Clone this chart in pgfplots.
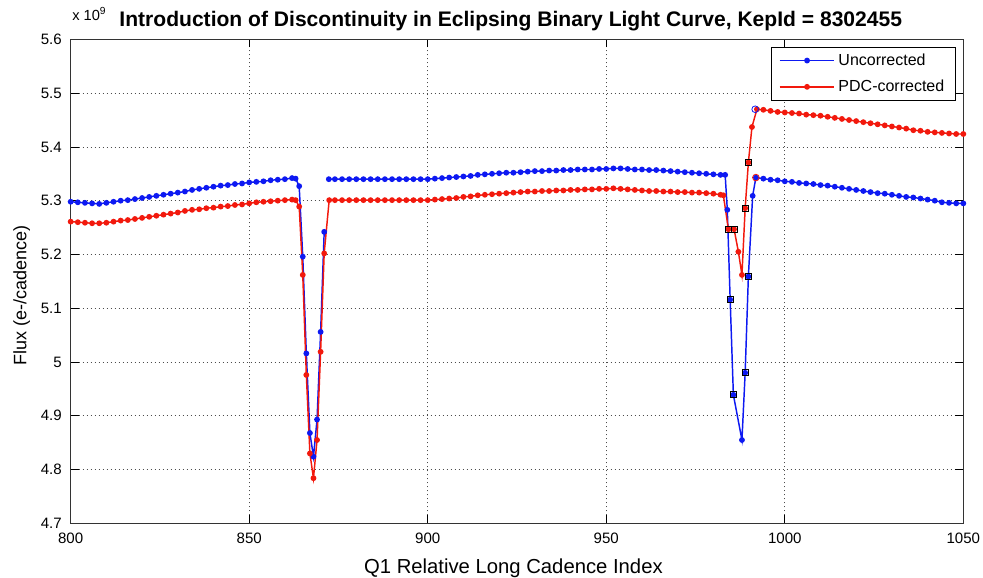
\documentclass[border=0pt]{standalone}
\usepackage{fontspec}
\setmainfont{Liberation Sans}
\usepackage{pgfplots}
\pgfplotsset{compat=1.18}
\definecolor{mblue}{rgb}{0.05,0.1,0.95}
\definecolor{mred}{rgb}{0.95,0.1,0.05}
\begin{document}
\begin{tikzpicture}
\useasboundingbox (-53.0pt,-40.3pt) rectangle (684.2pt,392.5pt);
\begin{axis}[
  name=ax,
  scale only axis,
  width=669.45pt, height=363pt,
  xmin=800, xmax=1050, ymin=4.7, ymax=5.6,
  xtick={800,850,...,1050},
  ytick={4.7,4.8,4.9,5.0,5.1,5.2,5.3,5.4,5.5,5.6},
  /pgf/number format/assume math mode=true,
  /pgf/number format/fixed,
  /pgf/number format/1000 sep={},
  tick label style={font=\fontsize{11.3}{13}\selectfont},
  xticklabel style={anchor=base, yshift=-14.8pt},
  yticklabel style={anchor=east, inner sep=0pt, xshift=-6.5pt},
  tick align=inside,
  major tick length=6pt,
  tick style={black, line width=0.6pt},
  axis line style={black!80, line width=0.7pt},
  grid=major,
  major grid style={black!70, line width=0.6pt, dash pattern=on 0.75pt off 2.25pt},
  xlabel={Q1 Relative Long Cadence Index},
  ylabel={Flux (e-/cadence)},
  xlabel style={font=\fontsize{15.2}{17}\selectfont, at={(axis description cs:0.496,0)}, anchor=base, yshift=-37.3pt},
  ylabel style={font=\fontsize{13.5}{16}\selectfont, at={([xshift=-36.7pt]axis description cs:0,0.47)}, anchor=center},
  title={\bfseries Introduction of Discontinuity in Eclipsing Binary Light Curve, KepId = 8302455},
  title style={font=\fontsize{15.8}{18}\selectfont, at={(axis description cs:0.493,1)}, anchor=base, yshift=3.5pt},
  unbounded coords=jump,
  legend style={at={(axis description cs:0.9918,0.9848)}, anchor=north east, draw=black, line width=0.6pt,
    font=\fontsize{12}{14}\selectfont, inner xsep=6pt, inner ysep=2.5pt, row sep=4.5pt,
    nodes={inner sep=2.5pt}},
  legend cell align=left,
  legend image code/.code={\draw[mark repeat=2,mark phase=2,#1] plot coordinates {(0pt,0pt) (20.5pt,0pt) (41pt,0pt)};},
]
% Uncorrected
\addplot[mblue, line width=1.1pt, mark=*, mark size=1.6pt] coordinates {
(800,5.298)(802,5.297)(804,5.296)(806,5.295)(808,5.294)(810,5.296)(812,5.298)(814,5.300)(816,5.301)(818,5.303)
(820,5.305)(822,5.307)(824,5.309)(826,5.311)(828,5.313)(830,5.315)(832,5.317)(834,5.320)(836,5.322)(838,5.324)
(840,5.326)(842,5.328)(844,5.329)(846,5.331)(848,5.332)(850,5.334)(852,5.335)(854,5.336)(856,5.338)(858,5.339)
(860,5.340)(862,5.342)(863,5.341)(864,5.327)(865,5.196)(866,5.016)(867,4.868)(868,4.824)(869,4.893)(870,5.056)
(871,5.242)(871.6,nan)(872.3,5.340)(874,5.340)(876,5.340)(878,5.340)(880,5.340)(882,5.340)(884,5.340)(886,5.340)
(888,5.340)(890,5.340)(892,5.340)(894,5.340)(896,5.340)(898,5.340)(900,5.340)(902,5.341)(904,5.342)(906,5.343)
(908,5.344)(910,5.345)(912,5.346)(914,5.348)(916,5.349)(918,5.350)(920,5.351)(922,5.352)(924,5.352)(926,5.353)
(928,5.354)(930,5.355)(932,5.355)(934,5.356)(936,5.356)(938,5.357)(940,5.357)(942,5.358)(944,5.358)(946,5.358)
(948,5.359)(950,5.359)(952,5.360)(954,5.360)(956,5.359)(958,5.358)(960,5.358)(962,5.357)(964,5.357)(966,5.356)
(968,5.355)(970,5.354)(972,5.353)(974,5.352)(976,5.351)(978,5.350)(980,5.349)(982,5.348)(983.3,5.348)
(983.9,5.283)(984.7,5.116)(985.6,4.939)(988.0,4.855)(988.9,4.980)(989.8,5.159)(991.0,5.309)(991.9,5.343)
(994,5.341)(996,5.339)(998,5.338)(1000,5.336)(1002,5.335)(1004,5.333)(1006,5.332)(1008,5.331)(1010,5.329)
(1012,5.328)(1014,5.326)(1016,5.324)(1018,5.322)(1020,5.320)(1022,5.318)(1024,5.316)(1026,5.314)(1028,5.313)
(1030,5.311)(1032,5.309)(1034,5.307)(1036,5.306)(1038,5.304)(1040,5.302)(1042,5.300)(1044,5.297)(1046,5.296)
(1048,5.295)(1050,5.295)
};
\addlegendentry{Uncorrected}
% PDC-corrected
\addplot[mred, line width=1.1pt, mark=*, mark size=1.6pt] coordinates {
(800,5.261)(802,5.260)(804,5.259)(806,5.258)(808,5.258)(810,5.259)(812,5.261)(814,5.263)(816,5.264)(818,5.266)
(820,5.268)(822,5.270)(824,5.272)(826,5.274)(828,5.276)(830,5.278)(832,5.281)(834,5.283)(836,5.284)(838,5.286)
(840,5.287)(842,5.289)(844,5.290)(846,5.292)(848,5.293)(850,5.295)(852,5.297)(854,5.298)(856,5.299)(858,5.300)
(860,5.301)(862,5.302)(863,5.301)(864,5.289)(865,5.162)(866,4.976)(867,4.830)(868,4.784)(869,4.855)(870,5.019)
(871,5.202)(872.4,5.301)(874,5.301)(876,5.301)(878,5.301)(880,5.301)(882,5.301)(884,5.301)(886,5.301)(888,5.301)
(890,5.301)(892,5.301)(894,5.301)(896,5.301)(898,5.301)(900,5.301)(902,5.302)(904,5.303)(906,5.304)(908,5.305)
(910,5.307)(912,5.308)(914,5.310)(916,5.311)(918,5.312)(920,5.313)(922,5.314)(924,5.315)(926,5.316)(928,5.317)
(930,5.317)(932,5.318)(934,5.318)(936,5.319)(938,5.319)(940,5.320)(942,5.320)(944,5.321)(946,5.321)(948,5.322)
(950,5.322)(952,5.323)(954,5.322)(956,5.321)(958,5.320)(960,5.319)(962,5.318)(964,5.318)(966,5.317)(968,5.317)
(970,5.316)(972,5.316)(974,5.315)(976,5.315)(978,5.314)(980,5.313)(982,5.311)(982.8,5.310)(984.2,5.247)
(985.8,5.247)(987.0,5.205)(988.0,5.162)(988.9,5.286)(989.8,5.371)(990.8,5.437)(992.2,5.470)(994,5.469)
(996,5.467)(998,5.465)(1000,5.464)(1002,5.463)(1004,5.462)(1006,5.460)(1008,5.459)(1010,5.458)(1012,5.456)
(1014,5.454)(1016,5.452)(1018,5.450)(1020,5.448)(1022,5.446)(1024,5.444)(1026,5.442)(1028,5.440)(1030,5.438)
(1032,5.436)(1034,5.434)(1036,5.431)(1038,5.430)(1040,5.428)(1042,5.427)(1044,5.426)(1046,5.425)(1048,5.424)
(1050,5.424)
};
\addlegendentry{PDC-corrected}
% flagged points
\addplot[forget plot, only marks, mark=square, mark size=2.3pt, black, line width=0.7pt] coordinates {
(984.7,5.116)(985.6,4.939)(988.9,4.980)(989.8,5.159)
(984.2,5.247)(985.8,5.247)(988.9,5.286)(989.8,5.371)
};
\addplot[forget plot, only marks, mark=o, mark size=2.5pt, mblue, line width=0.6pt] coordinates {(991.7,5.470)};
\addplot[forget plot, only marks, mark=o, mark size=2.5pt, mred, line width=0.6pt] coordinates {(991.9,5.343)};
\end{axis}
\node[anchor=base west, font=\fontsize{11}{13}\selectfont, inner sep=0pt] at ([xshift=1pt,yshift=14.5pt]ax.north west) {x 10$^{\mathrm{9}}$};
\end{tikzpicture}
\end{document}
